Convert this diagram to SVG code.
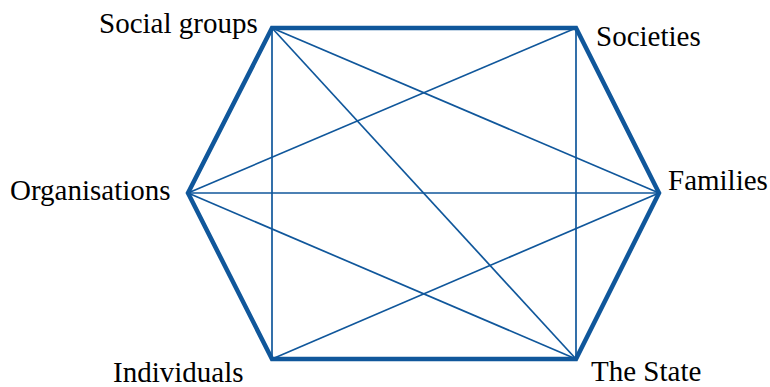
<svg xmlns="http://www.w3.org/2000/svg" width="770" height="387" viewBox="0 0 770 387">
<rect width="770" height="387" fill="#fff"/>
<g id="connectors" stroke="#10579b" fill="none">
<g stroke-width="1.7">
<line x1="272" y1="28" x2="272" y2="359"/>
<line x1="272" y1="28" x2="659" y2="193"/>
<line x1="272" y1="28" x2="576" y2="359"/>
<line x1="576" y1="28" x2="188" y2="193"/>
<line x1="576" y1="28" x2="576" y2="359"/>
<line x1="188" y1="193" x2="659" y2="193"/>
<line x1="188" y1="193" x2="576" y2="359"/>
<line x1="272" y1="359" x2="659" y2="193"/>
</g>
<polygon stroke-width="4.5" points="272,28 576,28 659,193 576,359 272,359 188,193"/>
</g>
<g id="social-groups"><text x="99" y="33" style="font-family:'Times New Roman','Liberation Serif',serif;font-size:29px">Social groups</text></g>
<g id="societies"><text x="596" y="46" style="font-family:'Times New Roman','Liberation Serif',serif;font-size:29px">Societies</text></g>
<g id="families"><text x="668" y="190" style="font-family:'Times New Roman','Liberation Serif',serif;font-size:29px">Families</text></g>
<g id="the-state"><text x="591" y="381" style="font-family:'Times New Roman','Liberation Serif',serif;font-size:29px">The State</text></g>
<g id="individuals"><text x="113" y="382" style="font-family:'Times New Roman','Liberation Serif',serif;font-size:29px">Individuals</text></g>
<g id="organisations"><text x="10" y="200" style="font-family:'Times New Roman','Liberation Serif',serif;font-size:29px">Organisations</text></g>
</svg>
